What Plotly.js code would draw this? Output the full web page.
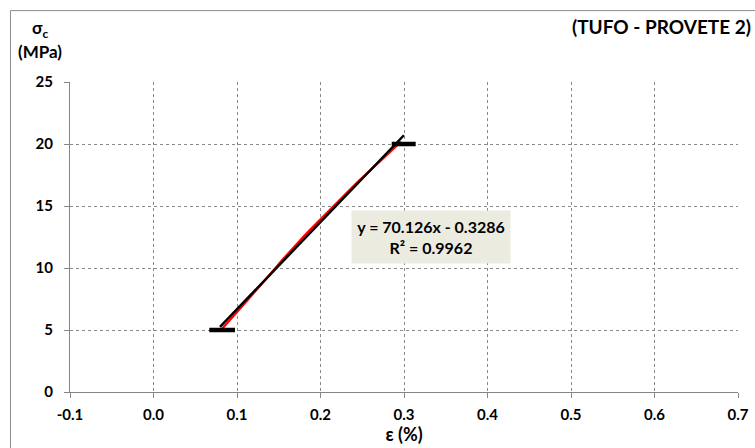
<!DOCTYPE html>
<html>
<head>
<meta charset="utf-8">
<script src="https://cdn.plot.ly/plotly-3.0.1.min.js"></script>
<style>html,body{margin:0;padding:0;background:#fff;}#chart{width:755px;height:448px;}</style>
</head>
<body>
<div id="chart"></div>
<script>
// Measured curve: strain (%) and stress (MPa)
const strain = [0.0808,0.0876,0.0941,0.1008,0.1071,0.1138,0.1202,0.1269,0.1333,0.1399,0.1462,0.1524,0.1589,0.1656,0.1723,0.1793,0.1864,0.1936,0.2008,0.2082,0.2155,0.2230,0.2305,0.2381,0.2457,0.2536,0.2614,0.2695,0.2773,0.2853,0.2930,0.2963];
const stress = [5.0,5.5,6.0,6.5,7.0,7.5,8.0,8.5,9.0,9.5,10.0,10.5,11.0,11.5,12.0,12.5,13.0,13.5,14.0,14.5,15.0,15.5,16.0,16.5,17.0,17.5,18.0,18.5,19.0,19.5,20.0,20.2];
// Linear trendline (from chart label) and its x extent
const trendSlope = 70.126;
const trendIntercept = -0.3286;
const trendX = [0.0796, 0.2999];
// Horizontal limit markers at 5 and 20 MPa
const lowLimitX = [0.0668, 0.0976];
const lowLimitY = [5, 5];
const highLimitX = [0.2853, 0.3140];
const highLimitY = [20, 20];
// Axis ticks
const xTicks = [-0.1,0.0,0.1,0.2,0.3,0.4,0.5,0.6,0.7];
const xTickLabels = ['-0.1','0.0','0.1','0.2','0.3','0.4','0.5','0.6','0.7'];
const yTicks = [0,5,10,15,20,25];
const yTickLabels = ['0','5','10','15','20','25'];
const eqText = 'y = 70.126x - 0.3286<br>R² = 0.9962';

const trendY = trendX.map(x => trendSlope * x + trendIntercept);
const FONT = 'Lato, "Open Sans", sans-serif';

const traces = [
  {x: strain, y: stress, type: 'scatter', mode: 'lines', line: {color: '#FF0000', width: 2.4}, hoverinfo: 'skip'},
  {x: trendX, y: trendY, type: 'scatter', mode: 'lines', line: {color: '#000000', width: 2.4}, hoverinfo: 'skip'},
  {x: lowLimitX, y: lowLimitY, type: 'scatter', mode: 'lines', line: {color: '#000000', width: 4.5}, hoverinfo: 'skip'},
  {x: highLimitX, y: highLimitY, type: 'scatter', mode: 'lines', line: {color: '#000000', width: 4.5}, hoverinfo: 'skip'}
];

const axisCommon = {
  showline: true, linecolor: '#868686', linewidth: 1,
  ticks: 'outside', ticklen: 5, tickcolor: '#868686', tickwidth: 1,
  showgrid: true, gridcolor: '#8a8a8a', griddash: 'dot', gridwidth: 1,
  zeroline: false,
  tickfont: {family: FONT, size: 15, color: '#000', weight: 'bold'},
  fixedrange: true
};

const layout = {
  width: 755, height: 448,
  margin: {l: 70, r: 17, t: 82, b: 55.5},
  paper_bgcolor: '#ffffff', plot_bgcolor: '#ffffff',
  showlegend: false,
  xaxis: Object.assign({}, axisCommon, {
    range: [-0.1, 0.7], tickmode: 'array', tickvals: xTicks, ticktext: xTickLabels,
    ticklabelstandoff: 4,
    title: {text: 'ε (%)', font: {family: FONT, size: 18, color: '#000', weight: 'bold'}, standoff: 1}
  }),
  yaxis: Object.assign({}, axisCommon, {
    range: [0, 25], tickmode: 'array', tickvals: yTicks, ticktext: yTickLabels,
    ticklabelstandoff: 8
  }),
  shapes: [
    {type: 'rect', xref: 'paper', yref: 'paper', x0: -0.0891, x1: 1.3, y0: -0.5, y1: 1.2303,
     line: {color: '#8c8c8c', width: 1}, fillcolor: 'rgba(0,0,0,0)', layer: 'below'}
  ],
  annotations: [
    {xref: 'paper', yref: 'paper', x: -0.0449, y: 1.172, text: 'σ<sub>c</sub>', showarrow: false,
     xanchor: 'center', yanchor: 'middle', font: {family: FONT, size: 17, color: '#000', weight: 'bold'}},
    {xref: 'paper', yref: 'paper', x: -0.0449, y: 1.0998, text: '(MPa)', showarrow: false,
     xanchor: 'center', yanchor: 'middle', font: {family: FONT, size: 17, color: '#000', weight: 'bold'}},
    {xref: 'paper', yref: 'paper', x: 1.022, y: 1.18, text: '(TUFO - PROVETE 2)', showarrow: false,
     xanchor: 'right', yanchor: 'middle', font: {family: FONT, size: 19, color: '#000', weight: 'bold'}},
    {xref: 'x', yref: 'y', x: 0.3323, y: 12.52, text: eqText, showarrow: false,
     xanchor: 'center', yanchor: 'middle', align: 'center',
     bgcolor: '#EBEBE0', width: 154, height: 48, borderpad: 2,
     font: {family: FONT, size: 16, color: '#000', weight: 'bold'}}
  ]
};

Plotly.newPlot('chart', traces, layout, {displayModeBar: false, staticPlot: true});
</script>
</body>
</html>
